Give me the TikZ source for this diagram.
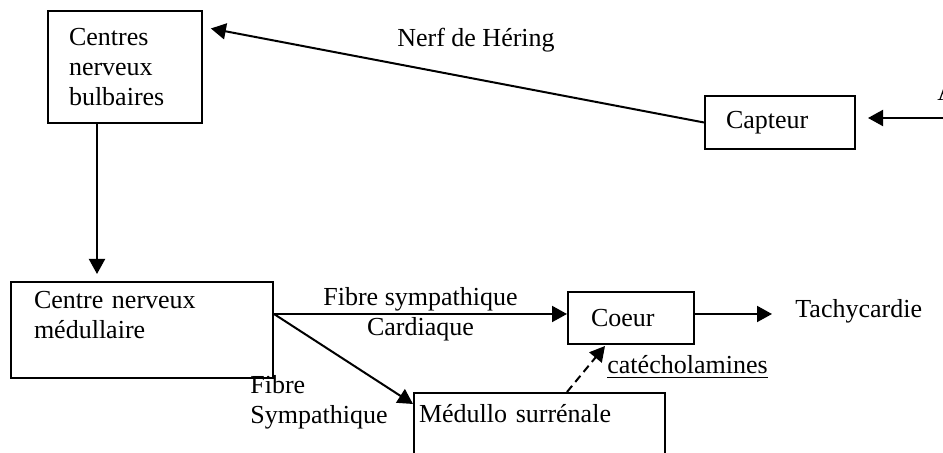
\documentclass[tikz,border=0pt]{standalone}
\usepackage{fontspec}
\setmainfont{Liberation Serif}
\usetikzlibrary{calc,positioning,arrows.meta}

\begin{document}
\begin{tikzpicture}[x=0.5pt,y=-0.5pt,font=\fontsize{13}{15}\selectfont,
                bloc/.style={draw,line width=1pt,anchor=north west,align=left},
                fleche/.style={line width=1pt,-{Triangle[length=7.5pt,width=8pt]}}]
                \useasboundingbox (0,0) rectangle (943,453);
                \node[bloc,minimum width=77pt,minimum height=56pt,inner xsep=10.5pt,text width=56pt] (bulb) at (47,10) {Centres\\nerveux\\bulbaires};
                \node[bloc,minimum width=75pt,minimum height=26.5pt,inner xsep=10.5pt,text width=54pt] (capteur) at (704,95) {Capteur};
                \node[bloc,minimum width=131pt,minimum height=48pt,inner xsep=11.5pt,text width=108pt] (medul) at (10,281) {Centre nerveux\\médullaire\\\mbox{}};
                \node[bloc,minimum width=63pt,minimum height=26pt,inner xsep=11.5pt,text width=40pt] (coeur) at (567,291) {Coeur};
                \node[bloc,minimum width=125.5pt,minimum height=50pt,inner xsep=2.5pt,text width=120.5pt] (medullo) at (413,392) {Médullo surrénale\\\mbox{}\\\mbox{}};
                \node[anchor=west,inner sep=0pt] (tachy) at (795,311) {Tachycardie};
                \node (nerf) at (476,40) {Nerf de Héring};
                \node[anchor=base west,inner sep=0pt] (suite) at (937,101) {A};
                \node[anchor=west,inner sep=0pt] (catecho) at (607,367) {\underline{catécholamines}};
                \node[anchor=west,inner sep=0pt,align=left] (fibre) at (250,402) {Fibre\\Sympathique};
                \coordinate (entree) at (950,118);
                \coordinate (b1) at ($(bulb.south west)+(50,0)$);
                \coordinate (c1) at ($(coeur.west)+(0,-4)$);
                \coordinate (c2) at ($(coeur.east)+(0,-4)$);
                \coordinate (m1) at (c1 -| medul.east);
                \draw[fleche,shorten >=4pt] (capteur.west) -- ($(bulb.north east)+(0,17)$);
                \draw[fleche,shorten >=6pt] (entree) -- (entree -| capteur.east);
                \draw[fleche,shorten >=3.5pt] (b1) -- (b1 |- medul.north);
                \draw[fleche] (m1) -- node[above,inner sep=1pt]{Fibre sympathique} node[below,inner sep=1pt]{Cardiaque} (c1);
                \draw[fleche,shorten >=11.5pt] (c2) -- (c2 -| tachy.west);
                \draw[fleche] (m1) -- ($(medullo.north west)+(0,12)$);
                \draw[fleche,dash pattern=on 4pt off 2.5pt] ($(medullo.north west)+(154,0)$) -- ($(coeur.south west)+(38,1)$);
            \end{tikzpicture}
\end{document}
